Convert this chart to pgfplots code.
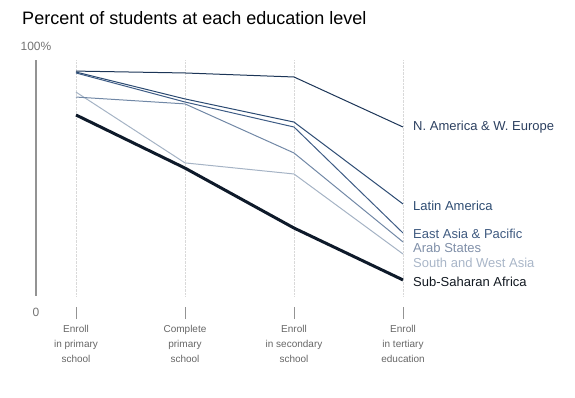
\documentclass[border=0pt]{standalone}
\usepackage{pgfplots}
\pgfplotsset{compat=1.18}
\usepackage{fontspec}
\setmainfont{Liberation Sans}
\definecolor{cNA}{HTML}{1C3557}
\definecolor{cLA}{HTML}{2B4A72}
\definecolor{cEA}{HTML}{3E5C85}
\definecolor{cAS}{HTML}{7188A6}
\definecolor{cSW}{HTML}{A5B3C5}
\definecolor{cSS}{HTML}{0E1A2A}
\definecolor{tNA}{HTML}{2C4060}
\definecolor{tLA}{HTML}{2F4D73}
\definecolor{tEA}{HTML}{3F5A80}
\definecolor{tAS}{HTML}{7F8FA8}
\definecolor{tSW}{HTML}{A9B6C8}
\definecolor{tSS}{HTML}{111820}
\begin{document}
\begin{tikzpicture}[x=1pt,y=1pt]
\begin{axis}[
  at={(0,0)}, anchor=south west,
  scale only axis, width=399.7pt, height=236pt,
  xmin=-0.367, xmax=3.3, ymin=0, ymax=100,
  axis lines*=left,
  x axis line style={draw=none},
  y axis line style={draw=gray!85, line width=1.1pt},
  xtick={0,1,2,3}, ytick=\empty,
  major tick length=0pt,
  xmajorgrids, grid style={densely dotted, gray!30},
  xticklabels={
    {\textcolor{gray!85}{\rule{0.6pt}{12pt}}\\[-2pt]Enroll\\in primary\\school},
    {\textcolor{gray!85}{\rule{0.6pt}{12pt}}\\[-2pt]Complete\\primary\\school},
    {\textcolor{gray!85}{\rule{0.6pt}{12pt}}\\[-2pt]Enroll\\in secondary\\school},
    {\textcolor{gray!85}{\rule{0.6pt}{12pt}}\\[-2pt]Enroll\\in tertiary\\education}},
  xticklabel style={align=center, anchor=north, inner sep=0pt, yshift=-11pt,
    font=\fontsize{10}{15}\selectfont, text=black!60},
  clip=false,
]
\addplot[cSW, line width=1pt] coordinates {(0,86.4) (1,56.4) (2,51.7) (3,17.8)};
\addplot[cAS, line width=1pt] coordinates {(0,84.3) (1,81.4) (2,60.6) (3,22.9)};
\addplot[cEA, line width=1pt] coordinates {(0,94.5) (1,82.2) (2,71.6) (3,26.7)};
\addplot[cLA, line width=1pt] coordinates {(0,94.9) (1,83.5) (2,73.7) (3,39.0)};
\addplot[cNA, line width=1pt] coordinates {(0,95.3) (1,94.5) (2,92.8) (3,71.6)};
\addplot[cSS, line width=3pt] coordinates {(0,76.7) (1,54.2) (2,28.8) (3,6.8)};

\node[anchor=west, inner sep=0pt, font=\fontsize{13}{13}\selectfont, text=tNA] at (axis cs:3.092,71.6) {N. America \& W. Europe};
\node[anchor=west, inner sep=0pt, font=\fontsize{13}{13}\selectfont, text=tLA] at (axis cs:3.092,38.1) {Latin America};
\node[anchor=west, inner sep=0pt, font=\fontsize{13}{13}\selectfont, text=tEA] at (axis cs:3.092,26.3) {East Asia \& Pacific};
\node[anchor=west, inner sep=0pt, font=\fontsize{13}{13}\selectfont, text=tAS] at (axis cs:3.092,20.3) {Arab States};
\node[anchor=west, inner sep=0pt, font=\fontsize{13}{13}\selectfont, text=tSW] at (axis cs:3.092,14.2) {South and West Asia};
\node[anchor=west, inner sep=0pt, font=\fontsize{13}{13}\selectfont, text=tSS] at (axis cs:3.092,6.2) {Sub-Saharan Africa};

\node[font=\fontsize{12}{12}\selectfont, text=black!55] at (axis cs:-0.367,105.9) {100\%};
\node[font=\fontsize{12}{12}\selectfont, text=black!55] at (axis cs:-0.367,-6.8) {0};
\node[anchor=west, inner sep=0pt, font=\fontsize{18}{18}\selectfont, text=black] at (axis cs:-0.495,117.8) {Percent of students at each education level};
\end{axis}
\path (-36,-102) rectangle (539,296);
\end{tikzpicture}
\end{document}
